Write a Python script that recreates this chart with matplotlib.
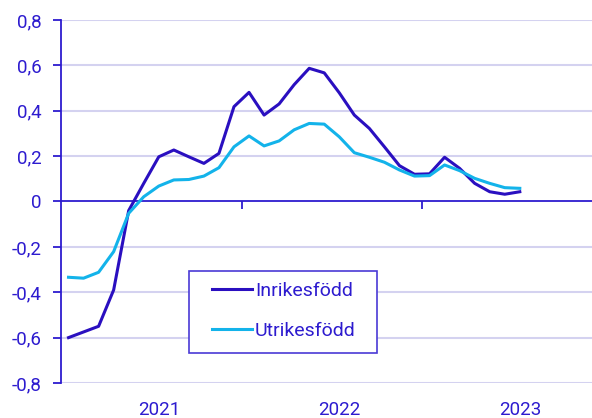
import matplotlib
matplotlib.use("Agg")
import matplotlib.pyplot as plt
import matplotlib.transforms as mtransforms
from matplotlib.patches import Rectangle
import numpy as np

# monthly values, Jan 2021 - Jul 2023
months = ["2021-01", "2021-02", "2021-03", "2021-04", "2021-05", "2021-06", "2021-07",
          "2021-08", "2021-09", "2021-10", "2021-11", "2021-12",
          "2022-01", "2022-02", "2022-03", "2022-04", "2022-05", "2022-06", "2022-07",
          "2022-08", "2022-09", "2022-10", "2022-11", "2022-12",
          "2023-01", "2023-02", "2023-03", "2023-04", "2023-05", "2023-06", "2023-07"]
inrikes = [-0.60, -0.575, -0.55, -0.39, -0.04, 0.08, 0.197, 0.227, 0.197, 0.168, 0.212,
           0.418, 0.481, 0.381, 0.43, 0.515, 0.587, 0.567, 0.479, 0.381, 0.322, 0.241,
           0.158, 0.12, 0.122, 0.195, 0.146, 0.08, 0.043, 0.032, 0.043]
utrikes = [-0.334, -0.338, -0.312, -0.221, -0.052, 0.021, 0.068, 0.095, 0.097, 0.112, 0.149,
           0.241, 0.289, 0.245, 0.267, 0.316, 0.344, 0.341, 0.285, 0.215, 0.195, 0.173,
           0.139, 0.112, 0.114, 0.161, 0.136, 0.102, 0.08, 0.061, 0.058]
years = ["2021", "2022", "2023"]
yticks = [-0.8, -0.6, -0.4, -0.2, 0, 0.2, 0.4, 0.6, 0.8]

dark = "#2a0fc0"
light = "#13b3ea"
txt = "#2d1bcf"
grid = "#d4d2f0"

plt.rcParams['font.family'] = ['Roboto', 'DejaVu Sans']

fig = plt.figure(figsize=(5.92, 4.18), dpi=100)
ax = fig.add_axes([61 / 592, 1 - 383 / 418, 1 - 61 / 592, (383 - 20) / 418])

x = np.arange(len(months))
ax.plot(x, inrikes, color=dark, lw=2.2, label="Inrikesfödd", zorder=3)
ax.plot(x, utrikes, color=light, lw=2.2, label="Utrikesfödd", zorder=3)

ax.set_ylim(-0.8, 0.8)
ax.set_xlim(-0.5, 34.8)
ax.set_yticks(yticks)
ax.set_yticklabels([("%g" % v).replace(".", ",") if v != 0 else "0" for v in yticks])
for v in yticks:
    if v != 0:
        ax.axhline(v, color=grid, lw=1.5, zorder=1)

ax.spines['top'].set_visible(False)
ax.spines['right'].set_visible(False)
ax.spines['left'].set_color(txt)
ax.spines['left'].set_linewidth(1.3)
ax.spines['bottom'].set_position(('data', 0))
ax.spines['bottom'].set_color(txt)
ax.spines['bottom'].set_linewidth(1.3)

ax.set_xticks([11.5, 23.5])
ax.set_xticklabels([])
ax.tick_params(axis='x', direction='out', length=6, width=1.3, color=txt)
ax.tick_params(axis='y', direction='out', length=5.5, width=1.3, color=txt,
               labelcolor=txt, labelsize=13.5, pad=8.5)

trans = mtransforms.blended_transform_factory(ax.transData, ax.transAxes)
for i, yr in enumerate(years):
    ax.text(6 + 12 * i, -0.074, yr, transform=trans, ha='center', va='center',
            color=txt, fontsize=13.5)

# legend box
box = Rectangle((188.5 / 592, 1 - 352.5 / 418), (377 - 188.5) / 592,
                (352.5 - 270.5) / 418, transform=fig.transFigure, clip_on=False,
                facecolor="white", edgecolor="#4a3ad6", lw=1.2, zorder=4)
ax.add_patch(box)
leg = ax.legend(loc='center left', bbox_to_anchor=(212 / 592, 1 - 311 / 418),
                bbox_transform=fig.transFigure,
                frameon=False, fontsize=14, labelcolor=txt,
                handlelength=2.05, handletextpad=0.15, labelspacing=1.15,
                borderpad=0, borderaxespad=0)
leg.set_zorder(5)

fig.savefig("out.png", dpi=100)
